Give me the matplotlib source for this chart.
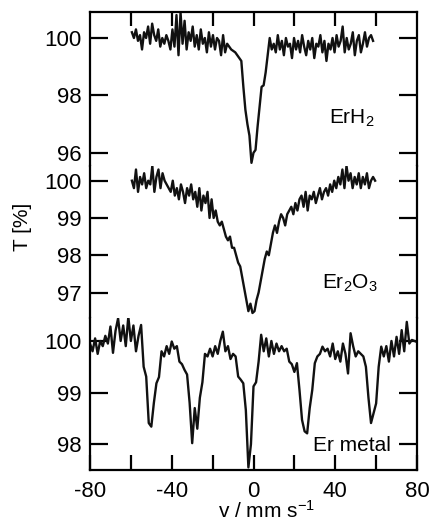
import numpy as np
import matplotlib
matplotlib.use("Agg")
import matplotlib.pyplot as plt

plt.rcParams['font.family'] = ['Liberation Sans', 'DejaVu Sans']
plt.rcParams['mathtext.fontset'] = 'custom'
plt.rcParams['mathtext.rm'] = 'Liberation Sans'
plt.rcParams['mathtext.it'] = 'Liberation Sans:italic'
plt.rcParams['axes.unicode_minus'] = False

# ---- data (transmission in %) ----
# ErH2, velocity -59.5 .. 58.5 mm/s
t_erh2 = [100.2, 100.0, 100.3, 99.9, 100.1, 99.6, 100.2, 100.0, 100.4, 99.8,
          100.5, 100.1, 99.9, 100.3, 99.7, 100.0, 99.8, 100.1, 99.9, 99.6,
          100.3, 99.7, 100.8, 99.4, 100.9, 99.8, 100.6, 99.6, 100.2, 99.9,
          100.4, 99.7, 100.1, 99.6, 100.3, 99.8, 100.0, 99.5, 100.2, 99.7,
          100.1, 99.6, 100.0, 99.9, 99.4, 100.1, 99.5, 99.8,
          99.7, 99.6, 99.55, 99.5, 99.4, 99.3, 99.2, 98.3, 97.5, 97.0,
          96.6, 95.65, 96.0, 96.1, 96.9, 97.6, 98.3, 98.35, 98.8, 99.4,
          100.0, 99.6,
          99.8, 99.5, 100.1, 99.6, 99.9, 99.4, 100.0, 99.7, 99.8, 99.3,
          100.0, 99.6, 99.9, 99.5, 100.1, 99.7, 99.4, 99.9, 99.6, 100.0,
          99.3, 99.8, 99.7, 100.1, 99.5, 99.9, 99.2, 99.8, 99.6, 100.0,
          99.5, 100.1, 99.7, 99.9, 100.4, 99.5, 100.0, 99.6, 99.8, 100.2,
          99.4, 99.9, 100.1, 99.5, 99.8, 100.2, 99.7, 100.0, 100.1, 99.9]
v_erh2 = np.linspace(-59.5, 58.5, len(t_erh2))

# Er2O3, velocity -59.5 .. 59.5 mm/s
t_er2o3 = [100.0, 99.8, 100.3, 99.7, 100.1, 99.9, 100.2, 99.8, 100.0, 99.9,
           100.4, 99.7, 100.1, 100.3, 99.8, 100.2, 100.0, 99.9, 99.8, 99.7,
           100.0, 99.6, 99.8, 99.5, 99.9, 99.7, 99.4, 99.8, 99.6, 99.9,
           99.5, 99.7, 99.3, 99.8, 99.2, 99.6, 99.4, 99.7, 99.0, 99.5,
           99.0, 99.2, 98.9, 98.8, 98.9, 98.7, 98.5, 98.4, 98.5, 98.2,
           98.2, 98.0, 97.8, 97.7, 97.4, 97.1, 96.8, 96.5, 96.7, 96.45,
           96.5, 96.8, 97.0, 97.3, 97.6, 97.9, 98.1, 98.0, 98.3, 98.6,
           98.8, 98.6, 98.9, 99.1, 99.0, 98.8, 99.1, 99.2, 99.3, 99.1,
           99.4, 99.2, 99.5, 99.6, 99.3, 99.7, 99.2, 99.6, 99.5, 99.7,
           99.4, 99.6, 99.8, 99.5, 99.7, 99.8, 99.6, 99.9, 99.7, 100.0,
           99.8, 100.1, 99.9, 100.3, 99.8, 100.4, 100.0, 100.2, 99.8, 100.1,
           99.9, 100.2, 99.8, 100.1, 99.9, 100.2, 99.8, 100.0, 100.1, 100.0]
v_er2o3 = np.linspace(-59.5, 59.5, len(t_er2o3))

# Er metal, velocity -80 .. 80 mm/s
t_ermet = [99.95, 99.8, 100.05, 99.75, 100.0, 99.9, 100.1, 99.95, 100.28, 99.77,
           100.2, 100.44, 100.0, 100.3, 99.9, 100.47, 100.0, 100.3, 99.8, 100.1,
           100.31, 99.5, 99.31, 98.41, 98.34, 98.8, 99.18, 99.3, 99.8, 99.7,
           99.9, 99.75, 99.99, 99.85, 99.9, 99.6, 99.55, 99.44, 99.35, 98.8,
           98.02, 98.7, 98.3, 98.9, 99.2, 99.75, 99.7, 99.85, 99.7, 99.9,
           99.75, 100.0, 100.18, 99.8, 99.9, 99.65, 99.75, 99.7, 99.31, 99.25,
           99.18, 98.66, 97.55, 98.0, 99.12, 99.2, 99.6, 100.12, 99.8, 100.05,
           99.7, 100.0, 99.75, 99.95, 99.8, 99.9, 99.8, 99.85, 99.6, 99.55,
           99.4, 99.57, 99.05, 98.47, 98.25, 98.21, 98.7, 99.05, 99.57, 99.7,
           99.75, 99.89, 99.8, 99.85, 99.7, 99.95, 99.65, 99.8, 99.6, 99.95,
           99.75, 99.37, 100.15, 99.9, 99.7, 99.8, 99.75, 99.7, 99.5, 98.9,
           98.41, 98.6, 98.79, 99.5, 99.89, 99.7, 99.9, 99.6, 100.0, 99.7,
           100.08, 99.75, 100.21, 99.8, 100.37, 99.95, 100.02, 100.0, 99.98]
v_ermet = np.linspace(-80, 80, len(t_ermet))

labels = ['ErH$_2$', 'Er$_2$O$_3$', 'Er metal']
yticks = [[96, 98, 100], [97, 98, 99, 100], [98, 99, 100]]
ylims = [(95.54, 100.906), (96.316, 100.394), (97.50, 100.445)]
xticks_minor = [-60, -40, -20, 0, 20, 40, 60]
xticks_major = [-80, -40, 0, 40, 80]

fig = plt.figure(figsize=(4.3, 5.25), dpi=100)
left, width = 90 / 430, 327 / 430
boxes = [(12, 166), (166, 318), (318, 470)]
series = [(v_erh2, t_erh2), (v_er2o3, t_er2o3), (v_ermet, t_ermet)]
lab_pos = [(48.2, 97.2), (47.2, 97.25), (48.2, 97.97)]

axes = []
for i, ((top, bot), (v, t)) in enumerate(zip(boxes, series)):
    ax = fig.add_axes([left, 1 - bot / 525, width, (bot - top) / 525])
    ax.plot(v, t, color='#111111', lw=1.7)
    ax.set_xlim(-80, 80)
    ax.set_ylim(*ylims[i])
    ax.set_yticks(yticks[i])
    ax.tick_params(axis='y', direction='in', length=13, width=1.6,
                   left=True, right=True, labelsize=16, pad=6)
    for s in ax.spines.values():
        s.set_linewidth(1.6)
    if i > 0:
        ax.spines['top'].set_visible(False)
    if i < 2:
        ax.spines['bottom'].set_visible(False)
    ax.text(*lab_pos[i], labels[i], fontsize=15, ha='center', va='center')
    axes.append(ax)

# x ticks: top of first panel, bottom of last
axes[0].set_xticks(xticks_minor)
axes[0].tick_params(axis='x', direction='in', length=10, width=1.6,
                    top=True, bottom=False, labeltop=False, labelbottom=False)
axes[1].set_xticks([])
axes[2].set_xticks(xticks_major)
axes[2].set_xticks(xticks_minor, minor=True)
axes[2].tick_params(axis='x', which='both', direction='in', length=11, width=1.6,
                    labelsize=16, pad=8)

fig.text(22 / 430, 1 - 227 / 525, 'T [%]', rotation=90, fontsize=15,
         ha='center', va='center')
fig.text(266 / 430, 1 - 511 / 525, 'v / mm s$^{-1}$', fontsize=15,
         ha='center', va='center')

fig.savefig('out.png', dpi=100)
